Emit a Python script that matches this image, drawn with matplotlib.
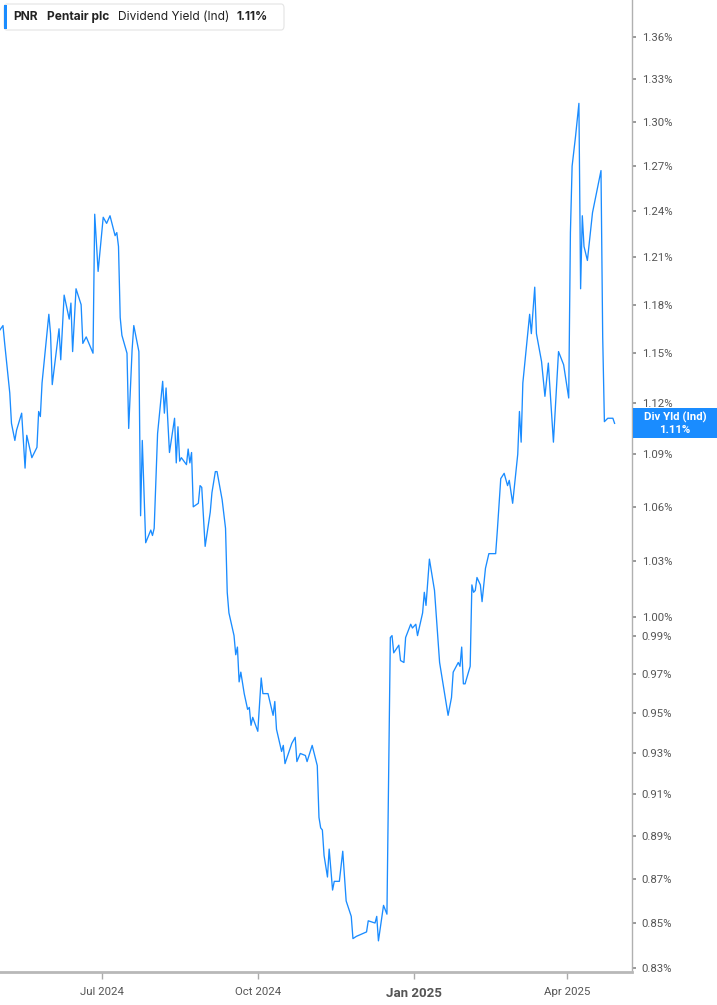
import matplotlib
matplotlib.use("Agg")
import matplotlib.pyplot as plt
import matplotlib.dates as mdates
from matplotlib.patches import FancyBboxPatch, Rectangle
from matplotlib.ticker import FixedLocator, NullLocator
import numpy as np
import pandas as pd

# Pentair dividend yield (Ind), in %
dates = [
    "2024-05-02", "2024-05-04", "2024-05-05", "2024-05-08", "2024-05-09", "2024-05-11", "2024-05-12",
    "2024-05-15", "2024-05-17", "2024-05-18", "2024-05-21", "2024-05-24", "2024-05-25", "2024-05-26",
    "2024-05-27", "2024-05-31", "2024-06-01", "2024-06-02", "2024-06-04", "2024-06-06", "2024-06-07",
    "2024-06-09", "2024-06-12", "2024-06-13", "2024-06-14", "2024-06-16", "2024-06-19", "2024-06-20",
    "2024-06-22", "2024-06-26", "2024-06-27", "2024-06-29", "2024-07-02", "2024-07-04", "2024-07-06",
    "2024-07-09", "2024-07-10", "2024-07-11", "2024-07-12", "2024-07-13", "2024-07-16", "2024-07-17",
    "2024-07-19", "2024-07-20", "2024-07-23", "2024-07-24", "2024-07-25", "2024-07-27", "2024-07-30",
    "2024-07-31", "2024-08-01", "2024-08-03", "2024-08-06", "2024-08-07", "2024-08-08", "2024-08-10",
    "2024-08-13", "2024-08-14", "2024-08-15", "2024-08-16", "2024-08-17", "2024-08-20", "2024-08-21",
    "2024-08-22", "2024-08-23", "2024-08-24", "2024-08-27", "2024-08-28", "2024-08-29", "2024-08-31",
    "2024-09-03", "2024-09-04", "2024-09-06", "2024-09-07", "2024-09-10", "2024-09-12", "2024-09-13",
    "2024-09-14", "2024-09-17", "2024-09-18", "2024-09-19", "2024-09-20", "2024-09-21", "2024-09-23",
    "2024-09-25", "2024-09-26", "2024-09-27", "2024-09-28", "2024-10-01", "2024-10-03", "2024-10-04",
    "2024-10-07", "2024-10-10", "2024-10-11", "2024-10-12", "2024-10-15", "2024-10-16", "2024-10-17",
    "2024-10-21", "2024-10-23", "2024-10-24", "2024-10-26", "2024-10-29", "2024-10-30", "2024-11-02",
    "2024-11-05", "2024-11-06", "2024-11-07", "2024-11-08", "2024-11-09", "2024-11-11", "2024-11-12",
    "2024-11-14", "2024-11-15", "2024-11-18", "2024-11-20", "2024-11-22", "2024-11-25", "2024-11-26",
    "2024-11-28", "2024-12-01", "2024-12-04", "2024-12-05", "2024-12-09", "2024-12-10", "2024-12-11",
    "2024-12-14", "2024-12-16", "2024-12-18", "2024-12-19", "2024-12-20", "2024-12-23", "2024-12-24",
    "2024-12-26", "2024-12-27", "2024-12-30", "2024-12-31", "2025-01-02", "2025-01-03", "2025-01-06",
    "2025-01-07", "2025-01-08", "2025-01-10", "2025-01-13", "2025-01-16", "2025-01-21", "2025-01-23",
    "2025-01-24", "2025-01-27", "2025-01-28", "2025-01-29", "2025-01-30", "2025-01-31", "2025-02-03",
    "2025-02-04", "2025-02-05", "2025-02-06", "2025-02-07", "2025-02-09", "2025-02-10", "2025-02-12",
    "2025-02-14", "2025-02-18", "2025-02-19", "2025-02-21", "2025-02-23", "2025-02-25", "2025-02-26",
    "2025-02-28", "2025-03-03", "2025-03-04", "2025-03-05", "2025-03-06", "2025-03-10", "2025-03-11",
    "2025-03-13", "2025-03-14", "2025-03-17", "2025-03-19", "2025-03-21", "2025-03-24", "2025-03-27",
    "2025-03-30", "2025-04-02", "2025-04-03", "2025-04-04", "2025-04-06", "2025-04-08", "2025-04-09",
    "2025-04-10", "2025-04-11", "2025-04-13", "2025-04-16", "2025-04-21", "2025-04-22", "2025-04-23",
    "2025-04-25", "2025-04-28", "2025-04-29",
]
yield_pct = [
    1.164, 1.167, 1.156, 1.126, 1.108, 1.098, 1.104,
    1.114, 1.082, 1.101, 1.088, 1.094, 1.115, 1.112,
    1.132, 1.174, 1.162, 1.131, 1.148, 1.165, 1.146,
    1.186, 1.171, 1.181, 1.151, 1.190, 1.180, 1.156,
    1.160, 1.150, 1.238, 1.201, 1.236, 1.232, 1.237,
    1.224, 1.226, 1.217, 1.172, 1.161, 1.150, 1.105,
    1.152, 1.167, 1.151, 1.055, 1.098, 1.040, 1.047,
    1.044, 1.048, 1.102, 1.133, 1.114, 1.129, 1.091,
    1.111, 1.085, 1.106, 1.086, 1.088, 1.084, 1.093,
    1.085, 1.091, 1.060, 1.062, 1.072, 1.071, 1.038,
    1.057, 1.068, 1.080, 1.080, 1.064, 1.048, 1.013,
    1.002, 0.990, 0.980, 0.984, 0.966, 0.971, 0.960,
    0.952, 0.953, 0.944, 0.948, 0.941, 0.968, 0.960,
    0.960, 0.949, 0.956, 0.942, 0.931, 0.934, 0.925,
    0.935, 0.938, 0.926, 0.930, 0.929, 0.926, 0.934,
    0.924, 0.899, 0.894, 0.893, 0.881, 0.871, 0.884,
    0.865, 0.869, 0.869, 0.883, 0.860, 0.853, 0.843,
    0.844, 0.845, 0.846, 0.851, 0.850, 0.853, 0.842,
    0.858, 0.854, 0.989, 0.990, 0.981, 0.985, 0.977,
    0.976, 0.989, 0.996, 0.994, 0.996, 0.990, 1.002,
    1.013, 1.006, 1.031, 1.014, 0.976, 0.949, 0.958,
    0.971, 0.976, 0.974, 0.984, 0.965, 0.965, 0.974,
    1.017, 1.013, 1.014, 1.021, 1.017, 1.008, 1.026,
    1.034, 1.034, 1.047, 1.076, 1.079, 1.072, 1.075,
    1.062, 1.090, 1.115, 1.097, 1.132, 1.174, 1.162,
    1.191, 1.162, 1.145, 1.124, 1.144, 1.097, 1.151,
    1.143, 1.123, 1.226, 1.270, 1.290, 1.313, 1.190,
    1.237, 1.217, 1.208, 1.239, 1.267, 1.160, 1.109,
    1.111, 1.111, 1.108,
]

y_ticks = [0.83, 0.85, 0.87, 0.89, 0.91, 0.93, 0.95, 0.97, 0.99, 1.00,
           1.03, 1.06, 1.09, 1.12, 1.15, 1.18, 1.21, 1.24, 1.27, 1.30, 1.33, 1.36]
x_ticks = ["2024-07-01", "2024-10-01", "2025-01-01", "2025-04-01"]
x_labels = ["Jul 2024", "Oct 2024", "Jan 2025", "Apr 2025"]

blue = "#1a8cff"
grey = "#555555"
W, H = 717, 1005

plt.rcParams['font.family'] = ['Roboto', 'DejaVu Sans']

fig = plt.figure(figsize=(W / 100, H / 100), dpi=100)
ax = fig.add_axes([0, 1 - 972 / H, 632 / W, 972 / H])

t = pd.to_datetime(dates)
ax.plot(t, yield_pct, color=blue, lw=0.95)

ax.set_yscale('log')
ax.set_ylim(0.8282, 1.387)
ax.set_xlim(pd.Timestamp("2024-05-02 06:00"), pd.Timestamp("2025-05-09 06:00"))

ax.yaxis.tick_right()
ax.yaxis.set_major_locator(FixedLocator(y_ticks))
ax.yaxis.set_minor_locator(NullLocator())
ax.set_yticklabels([f"{v:.2f}%" for v in y_ticks])
ax.tick_params(axis='y', which='major', length=3, width=1.2, color='#888888',
               labelcolor=grey, labelsize=8.2, pad=4)

ax.set_xticks(pd.to_datetime(x_ticks))
ax.set_xticklabels(x_labels)
ax.tick_params(axis='x', length=5, width=1, color='#aaaaaa', labelcolor=grey,
               labelsize=8.2, pad=6)
for lab in ax.get_xticklabels():
    if lab.get_text().startswith("Jan"):
        lab.set_fontweight('bold')
        lab.set_fontsize(9.5)

for s in ['left', 'top']:
    ax.spines[s].set_visible(False)
ax.spines['right'].set_color('#b0b0b0')
ax.spines['right'].set_linewidth(1)
ax.spines['bottom'].set_color('#b8b8b8')
ax.spines['bottom'].set_linewidth(2)

# header box
hdr = FancyBboxPatch((4 / W, 1 - 30 / H), 280 / W, 26 / H,
                     boxstyle="round,pad=0,rounding_size=0.004",
                     transform=fig.transFigure, fc='white', ec='#e4e4e4', lw=0.8)
fig.patches.append(hdr)
fig.patches.append(Rectangle((4 / W, 1 - 29 / H), 3 / W, 24 / H,
                             transform=fig.transFigure, fc=blue, ec='none'))
hy = 1 - 17 / H
hfont = ['Inter', 'Roboto', 'DejaVu Sans']
hs = 8.6
fig.text(13 / W, hy, "PNR", fontsize=hs, fontweight='bold', color='#222222', va='center', family=hfont)
fig.text(47 / W, hy, "Pentair plc", fontsize=hs, fontweight='bold', color='#222222', va='center', family=hfont)
fig.text(118 / W, hy, "Dividend Yield (Ind)", fontsize=hs, color='#222222', va='center', family=hfont)
fig.text(236 / W, hy, f"{yield_pct[-1]:.2f}%", fontsize=hs, fontweight='bold', color='#222222', va='center', family=hfont)

# last value badge on the axis
_, py = ax.transData.transform((mdates.date2num(t[-1]), yield_pct[-1]))
fig.patches.append(Rectangle((633 / W, (py - 15) / H), 84 / W, 30 / H,
                             transform=fig.transFigure, fc=blue, ec='none'))
fig.text(675 / W, (py + 6) / H, "Div Yld (Ind)", fontsize=8.2, fontweight='bold',
         color='white', ha='center', va='center')
fig.text(675 / W, (py - 7) / H, f"{yield_pct[-1]:.2f}%", fontsize=8.2, fontweight='bold',
         color='white', ha='center', va='center')

fig.savefig("out.png", dpi=100)
